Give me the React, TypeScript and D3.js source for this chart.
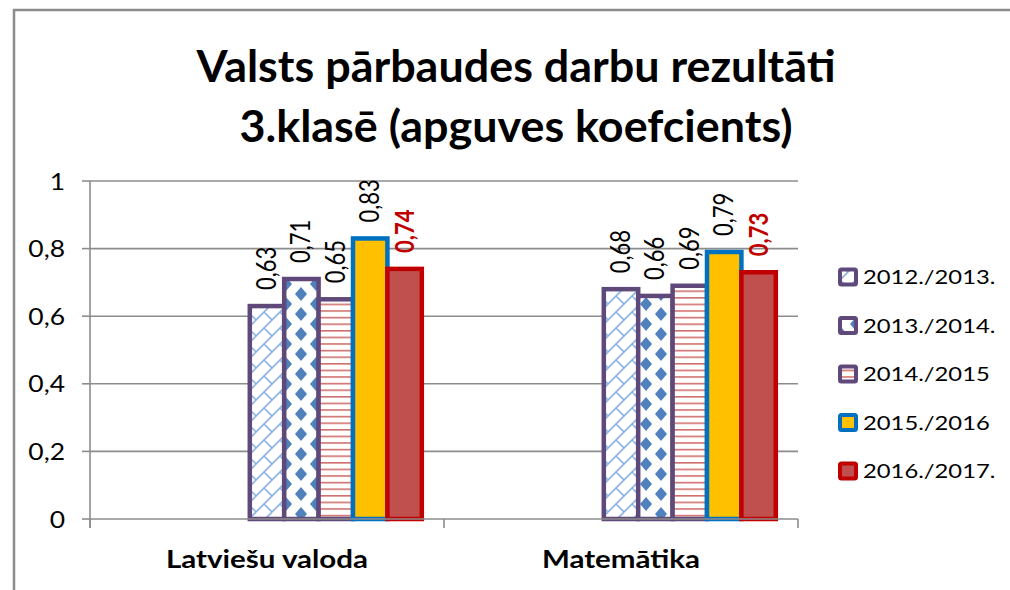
import React, { useEffect } from "react";
import * as d3 from "d3";

// ---------- data ----------
const titleLines = ["Valsts pārbaudes darbu rezultāti", "3.klasē (apguves koefcients)"];
const categories = ["Latviešu valoda", "Matemātika"];
const seriesNames = ["2012./2013.", "2013./2014.", "2014./2015", "2015./2016", "2016./2017."];
const values2012_2013 = [0.63, 0.68];
const values2013_2014 = [0.71, 0.66];
const values2014_2015 = [0.65, 0.69];
const values2015_2016 = [0.83, 0.79];
const values2016_2017 = [0.74, 0.73];
const yTicks = [0, 0.2, 0.4, 0.6, 0.8, 1];
const yTickLabels = ["0", "0,2", "0,4", "0,6", "0,8", "1"];

const seriesValues = [values2012_2013, values2013_2014, values2014_2015, values2015_2016, values2016_2017];
const fmt = (v: number) => String(v).replace(".", ",");

// ---------- layout / style ----------
const W = 1010;
const H = 590;
const plot = { left: 90, right: 798, top: 181, bottom: 519 };
const EMPTY_SLOTS = 4; // source chart reserves room for 4 empty series before the visible ones
const FONT = "Lato, 'Open Sans', sans-serif";
const GRID = "#8c8c8c";

const seriesStyle = [
  { fill: "url(#pBrick)", stroke: "#5F497A", label: "#000", bold: false },
  { fill: "url(#pDiamond)", stroke: "#5F497A", label: "#000", bold: false },
  { fill: "url(#pStripe)", stroke: "#5F497A", label: "#000", bold: false },
  { fill: "#FFC000", stroke: "#0070C0", label: "#000", bold: false },
  { fill: "#C0504D", stroke: "#C00000", label: "#C00000", bold: true },
];

function T({ x, y, sx = 1.2, rot = 0, children, ...rest }: any) {
  return (
    <text
      transform={`translate(${x},${y}) scale(${sx},1)${rot ? ` rotate(${rot})` : ""}`}
      fontFamily={FONT}
      {...rest}
    >
      {children}
    </text>
  );
}

export default function App() {
  useEffect(() => {
    document.body.style.margin = "0";
    document.body.style.overflow = "hidden";
  }, []);

  const y = d3.scaleLinear().domain([0, 1]).range([plot.bottom, plot.top]);
  const x0 = d3.scaleBand<string>().domain(categories).range([plot.left, plot.right]).padding(0);
  const slots = d3.range(EMPTY_SLOTS + seriesNames.length);
  const x1 = d3
    .scaleBand<number>()
    .domain(slots)
    .range([0, x0.bandwidth()])
    .paddingInner(0)
    .paddingOuter(0.645);

  const legendX = 840;
  const legendY0 = 277;
  const legendStep = 48.5;

  return (
    <svg
      width={W}
      height={H}
      style={{ position: "absolute", left: 0, top: 0, background: "#fff", overflow: "hidden", display: "block" }}
    >
      <defs>
        <pattern id="pBrick" patternUnits="userSpaceOnUse" width={16} height={16}>
          <rect width={16} height={16} fill="#fff" />
          <path d="M0,16 L16,0 M8,8 L16,16" stroke="#8DB3E2" strokeWidth={1.6} fill="none" />
          <path d="M-1,1 L1,-1 M15,17 L17,15" stroke="#8DB3E2" strokeWidth={1.6} fill="none" />
        </pattern>
        <pattern id="pDiamond" patternUnits="userSpaceOnUse" width={30} height={20} x={16} y={4}>
          <rect width={30} height={20} fill="#fff" />
          <path
            d="M15,3 L21,10 L15,17 L9,10 Z M0,-7 L6,0 L0,7 L-6,0 Z M30,-7 L36,0 L30,7 L24,0 Z M0,13 L6,20 L0,27 L-6,20 Z M30,13 L36,20 L30,27 L24,20 Z"
            fill="#4F81BD"
          />
        </pattern>
        <pattern id="pStripe" patternUnits="userSpaceOnUse" width={10} height={6.6}>
          <rect width={10} height={6.6} fill="#fff" />
          <rect y={0} width={10} height={1.6} fill="#D0706D" />
        </pattern>
      </defs>

      {/* outer chart border (top and left edges visible) */}
      <line x1={14} x2={14} y1={9} y2={H + 5} stroke={GRID} strokeWidth={2.5} />
      <line x1={13} x2={W + 5} y1={10} y2={10} stroke={GRID} strokeWidth={2.5} />

      {/* title */}
      {titleLines.map((t, i) => (
        <T
          key={i}
          x={516}
          y={82 + i * 60}
          sx={1.02}
          textAnchor="middle"
          fontSize={44}
          fontWeight="bold"
          fill="#000"
        >
          {t}
        </T>
      ))}

      {/* gridlines */}
      {yTicks.filter((t) => t > 0).map((t) => (
        <line key={t} x1={plot.left} x2={plot.right} y1={y(t)} y2={y(t)} stroke={GRID} strokeWidth={1.6} />
      ))}

      {/* bars */}
      {seriesValues.map((vals, si) =>
        categories.map((c, ci) => {
          const bx = (x0(c) as number) + (x1(EMPTY_SLOTS + si) as number);
          const bw = x1.bandwidth();
          const v = vals[ci];
          return (
            <rect
              key={`${si}-${ci}`}
              x={bx}
              y={y(v)}
              width={bw}
              height={y(0) - y(v)}
              fill={seriesStyle[si].fill}
              stroke={seriesStyle[si].stroke}
              strokeWidth={4.5}
            />
          );
        })
      )}

      {/* axes */}
      <line x1={plot.left} x2={plot.right} y1={y(0)} y2={y(0)} stroke={GRID} strokeWidth={1.6} />
      <line x1={plot.left} x2={plot.left} y1={plot.top} y2={y(0) + 9} stroke={GRID} strokeWidth={1.6} />
      {yTicks.map((t) => (
        <line key={t} x1={plot.left - 8} x2={plot.left} y1={y(t)} y2={y(t)} stroke={GRID} strokeWidth={1.6} />
      ))}
      {[...categories.map((c) => x0(c) as number), plot.right].map((xx, i) => (
        <line key={i} x1={xx} x2={xx} y1={y(0)} y2={y(0) + 9} stroke={GRID} strokeWidth={1.6} />
      ))}

      {/* y tick labels */}
      {yTicks.map((t, i) => (
        <T key={t} x={65} y={y(t) + 8.5} sx={1.15} textAnchor="end" fontSize={23} fill="#000">
          {yTickLabels[i]}
        </T>
      ))}

      {/* x labels */}
      {categories.map((c) => (
        <T
          key={c}
          x={(x0(c) as number) + x0.bandwidth() / 2}
          y={568}
          sx={1.18}
          textAnchor="middle"
          fontSize={25}
          fontWeight="bold"
          fill="#000"
        >
          {c}
        </T>
      ))}

      {/* data labels */}
      {seriesValues.map((vals, si) =>
        categories.map((c, ci) => {
          const cx = (x0(c) as number) + (x1(EMPTY_SLOTS + si) as number) + x1.bandwidth() / 2;
          const v = vals[ci];
          return (
            <T
              key={`l${si}-${ci}`}
              x={cx + 9}
              y={y(v) - 16}
              sx={1.22}
              rot={-90}
              textAnchor="start"
              fontSize={22}
              fontWeight={seriesStyle[si].bold ? "bold" : "normal"}
              fill={seriesStyle[si].label}
            >
              {fmt(v)}
            </T>
          );
        })
      )}

      {/* legend */}
      {seriesNames.map((n, i) => {
        const cy = legendY0 + i * legendStep;
        return (
          <g key={n}>
            <rect
              x={legendX}
              y={cy - 7.5}
              width={16}
              height={15}
              rx={1.5}
              fill={seriesStyle[i].fill}
              stroke={seriesStyle[i].stroke}
              strokeWidth={4}
            />
            <T x={863} y={cy + 7} sx={1.22} fontSize={19.5} fill="#000">
              {n}
            </T>
          </g>
        );
      })}
    </svg>
  );
}
